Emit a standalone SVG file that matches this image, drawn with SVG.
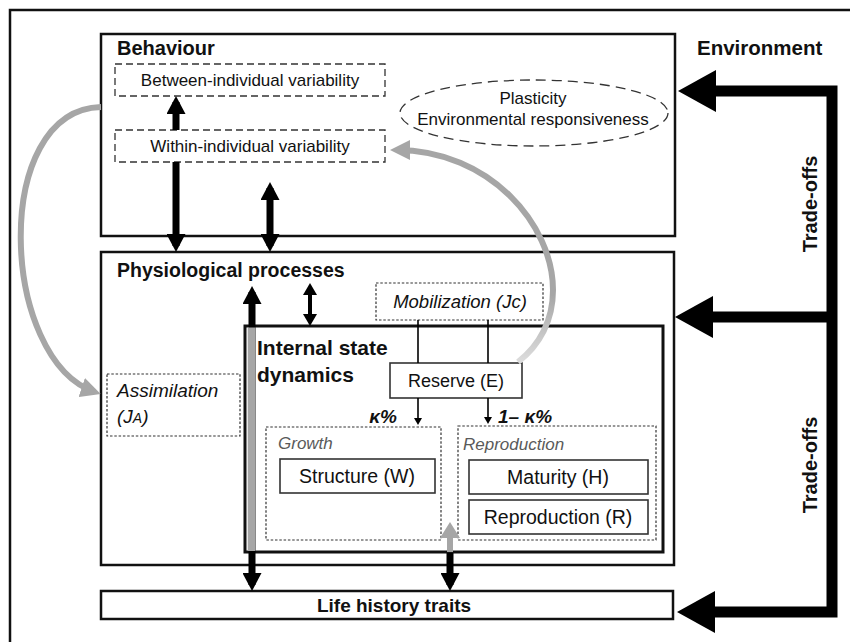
<svg xmlns="http://www.w3.org/2000/svg" width="850" height="642" viewBox="0 0 850 642">
<style>
text{font-family:"Liberation Sans",Arial,sans-serif;fill:#111}
.h{font-weight:bold}
.it{font-style:italic}
.box{fill:#fff;stroke:#111;stroke-width:2.5}
.dash{fill:#fff;stroke:#333;stroke-width:1.3;stroke-dasharray:7 4}
.dot{fill:#fff;stroke:#333;stroke-width:1.2;stroke-dasharray:2.5 1.8}
.solid{fill:#fff;stroke:#333;stroke-width:1.6}
.lbl{font-size:17px}
.big{font-size:19.5px}
.gr{fill:#5a5a5a}
.blk{fill:none;stroke:#000;stroke-width:7}
.gry{fill:none;stroke:#a6a6a6;stroke-width:6}
.thin{fill:none;stroke:#000;stroke-width:1.6}
</style>
<defs>
<marker id="hb" markerUnits="userSpaceOnUse" viewBox="0 0 18 19" markerWidth="18" markerHeight="19" refX="12" refY="9.5" orient="auto-start-reverse"><path d="M0,0 L18,9.5 L0,19 z" fill="#000"/></marker>
<marker id="hm" markerUnits="userSpaceOnUse" viewBox="0 0 12 14" markerWidth="12" markerHeight="14" refX="8" refY="7" orient="auto-start-reverse"><path d="M0,0 L12,7 L0,14 z" fill="#000"/></marker>
<marker id="hs" markerUnits="userSpaceOnUse" viewBox="0 0 7 8" markerWidth="7" markerHeight="8" refX="5" refY="4" orient="auto"><path d="M0,0 L7,4 L0,8 z" fill="#000"/></marker>
<marker id="hg" markerUnits="userSpaceOnUse" viewBox="0 0 16 20" markerWidth="16" markerHeight="20" refX="10" refY="10" orient="auto"><path d="M0,0 L16,10 L0,20 z" fill="#a6a6a6"/></marker>
<marker id="hga" markerUnits="userSpaceOnUse" viewBox="0 0 20 20" markerWidth="20" markerHeight="20" refX="14" refY="10" orient="auto"><path d="M0,0 L20,10 L0,20 z" fill="#a6a6a6"/></marker>
<marker id="hx" markerUnits="userSpaceOnUse" viewBox="0 0 38 42" markerWidth="38" markerHeight="42" refX="26" refY="21" orient="auto-start-reverse"><path d="M0,0 L38,21 L0,42 z" fill="#000"/></marker>
<linearGradient id="fade" gradientUnits="userSpaceOnUse" x1="0" y1="295" x2="0" y2="364"><stop offset="0" stop-color="#a6a6a6"/><stop offset="1" stop-color="#dedede"/></linearGradient>
</defs>

<rect x="10" y="10" width="850" height="645" fill="none" stroke="#111" stroke-width="2.5"/>

<g id="behaviour">
<rect class="box" x="101" y="34" width="574" height="202"/>
<text class="h" x="117" y="55" font-size="20">Behaviour</text>
</g>
<g id="between">
<rect class="dash" x="115" y="64" width="270" height="32"/>
<text class="lbl" x="250" y="86" text-anchor="middle">Between-individual variability</text>
</g>
<g id="within">
<rect class="dash" x="115" y="130" width="270" height="32"/>
<text class="lbl" x="250" y="152" text-anchor="middle">Within-individual variability</text>
</g>
<g id="plasticity">
<ellipse cx="534" cy="113" rx="134" ry="33" fill="#fff" stroke="#333" stroke-width="1.3" stroke-dasharray="10 6"/>
<text class="lbl" x="533" y="104" text-anchor="middle">Plasticity</text>
<text class="lbl" x="533" y="125" text-anchor="middle">Environmental responsiveness</text>
</g>
<g id="environment">
<text class="h" x="697" y="55" font-size="20.5">Environment</text>
</g>

<g id="physiological">
<rect class="box" x="101" y="252" width="573" height="313"/>
<text class="h" x="117" y="277" font-size="19.5">Physiological processes</text>
</g>
<g id="assimilation">
<rect class="dot" x="107" y="374" width="133" height="62"/>
<text class="it" x="117" y="397" font-size="19">Assimilation</text>
<text class="it" x="117" y="423" font-size="19">(J<tspan font-size="14">A</tspan>)</text>
</g>
<g id="mobilization">
<rect class="dot" x="376" y="283" width="167" height="37"/>
<text class="it" x="460" y="308" text-anchor="middle" font-size="18.5">Mobilization (Jc)</text>
</g>
<g id="internal">
<rect x="245" y="326" width="418" height="226" fill="#fff" stroke="#111" stroke-width="3"/>
<text class="h" x="257" y="355" font-size="21">Internal state</text>
<text class="h" x="257" y="382" font-size="21">dynamics</text>
</g>
<g id="reserve">
<rect class="solid" x="390" y="363" width="132" height="35"/>
<text x="456" y="387" text-anchor="middle" font-size="18">Reserve (E)</text>
</g>
<g id="growth">
<rect class="dot" x="266" y="427" width="175" height="113"/>
<text class="it gr" x="278" y="449" font-size="17">Growth</text>
</g>
<g id="structure">
<rect class="solid" x="280" y="459" width="155" height="34"/>
<text class="big" x="357" y="483" text-anchor="middle">Structure (W)</text>
</g>
<g id="reproduction">
<rect class="dot" x="458" y="426" width="198" height="114"/>
<text class="it gr" x="463" y="450" font-size="17">Reproduction</text>
</g>
<g id="maturity">
<rect class="solid" x="469" y="460" width="179" height="34"/>
<text class="big" x="558" y="484" text-anchor="middle">Maturity (H)</text>
</g>
<g id="reprobuffer">
<rect class="solid" x="469" y="500" width="179" height="34"/>
<text class="big" x="558" y="524" text-anchor="middle">Reproduction (R)</text>
</g>
<g id="lifehistory">
<rect class="box" x="101" y="591" width="572" height="28"/>
<text class="h" x="394" y="612" text-anchor="middle" font-size="19">Life history traits</text>
</g>
<g id="tradeoffs">
<text class="h" font-size="20" text-anchor="middle" transform="translate(817,204) rotate(-90)">Trade-offs</text>
<text class="h" font-size="20" text-anchor="middle" transform="translate(817,465) rotate(-90)">Trade-offs</text>
</g>

<g id="connectors">
<line class="blk" x1="176" y1="130" x2="176" y2="102" marker-end="url(#hb)"/>
<line class="blk" x1="176" y1="162" x2="176" y2="246" marker-end="url(#hb)"/>
<line class="blk" x1="270" y1="188" x2="270" y2="246" marker-start="url(#hb)" marker-end="url(#hb)"/>
<line class="blk" x1="252" y1="292" x2="252" y2="585" marker-start="url(#hb)" marker-end="url(#hb)"/>
<line x1="251.5" y1="327.5" x2="251.5" y2="551" stroke="#a6a6a6" stroke-width="7.5"/>
<line x1="310" y1="287" x2="310" y2="322" stroke="#000" stroke-width="4" marker-start="url(#hm)" marker-end="url(#hm)"/>
<line x1="450" y1="552" x2="450" y2="528" stroke="#a6a6a6" stroke-width="6" marker-end="url(#hg)"/>
<line class="blk" x1="450" y1="553" x2="450" y2="585" marker-end="url(#hb)"/>
<line class="thin" x1="418" y1="320" x2="418" y2="363"/>
<line class="thin" x1="488" y1="320" x2="488" y2="363"/>
<line class="thin" x1="418" y1="398" x2="418" y2="423" marker-end="url(#hs)"/>
<line class="thin" x1="488" y1="398" x2="488" y2="422" marker-end="url(#hs)"/>
<path class="gry" d="M101,107 C-10,110 0,360 95,392" marker-end="url(#hga)"/>
<path d="M518,362 C540,345 553,320 553,290 C553,225 490,150 396,150" fill="none" stroke="url(#fade)" stroke-width="6" marker-end="url(#hga)"/>
<path d="M690,91 H832 V612 H689" fill="none" stroke="#000" stroke-width="11" stroke-linejoin="miter" marker-start="url(#hx)" marker-end="url(#hx)"/>
<path d="M832,317 H687" fill="none" stroke="#000" stroke-width="11" marker-end="url(#hx)"/>
</g>
<text class="h it" x="397" y="423" text-anchor="end" font-size="19">κ%</text>
<text class="h it" x="498" y="423" font-size="19">1– κ%</text>
</svg>
